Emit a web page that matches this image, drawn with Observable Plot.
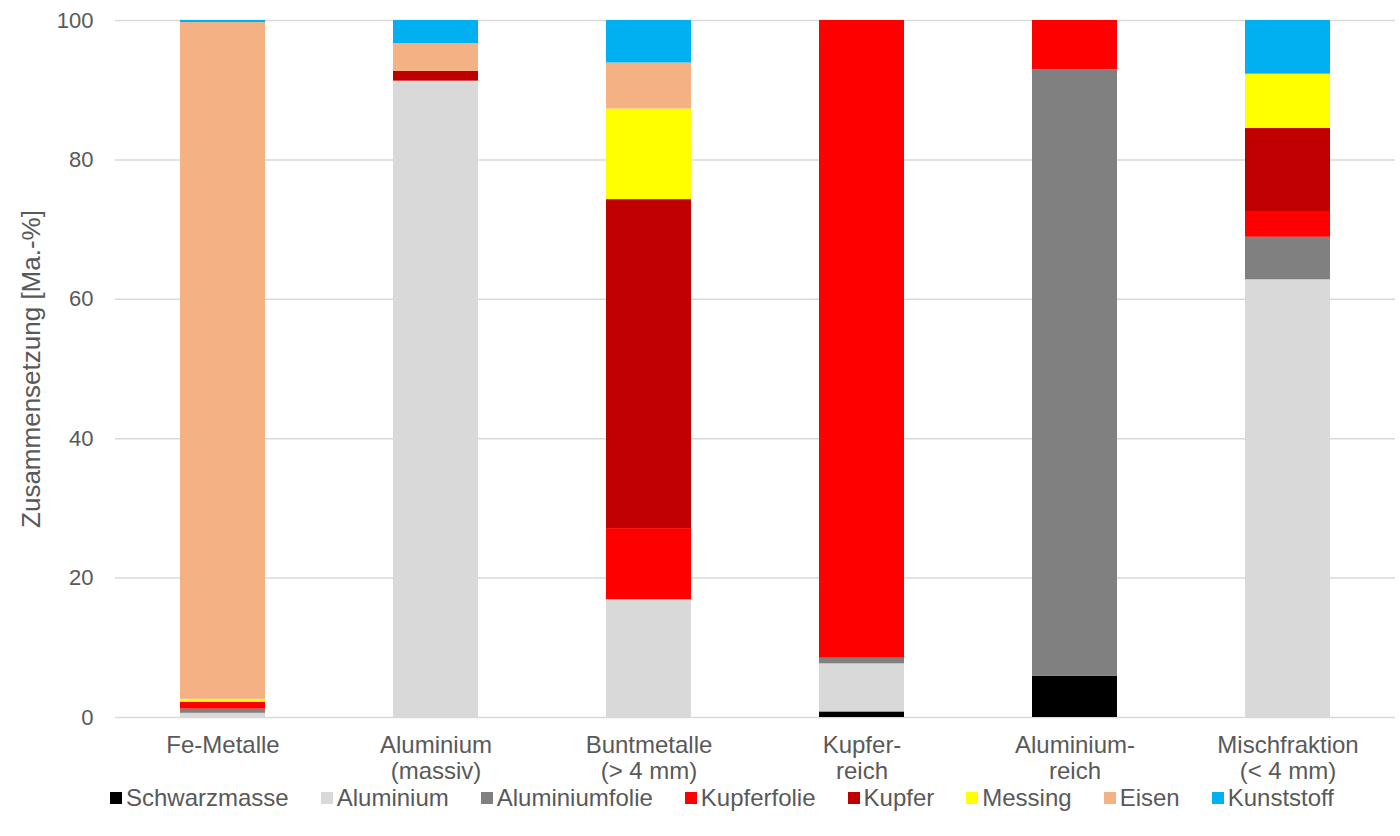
<!DOCTYPE html>
<html>
<head>
<meta charset="utf-8">
<script src="https://cdn.jsdelivr.net/npm/d3@7"></script>
<script src="https://cdn.jsdelivr.net/npm/@observablehq/plot@0.6"></script>
<style>
  html, body { margin: 0; padding: 0; background: #fff; }
  body { width: 1400px; height: 836px; overflow: hidden; font-family: "Liberation Sans", Arial, sans-serif; }
  #legend {
    display: flex; justify-content: center; align-items: center;
    height: 28px; padding-left: 44px;
    font-size: 24px; color: #595959;
  }
  #legend .item { display: flex; align-items: center; margin: 0 16px; }
  #legend .sw { width: 12px; height: 12px; margin-right: 4px; }
</style>
</head>
<body>
<div id="chart"></div>
<div id="legend"></div>
<script>
// Sortierfraktionen (x-Achse)
const categories = [
  "Fe-Metalle",
  "Aluminium\n(massiv)",
  "Buntmetalle\n(> 4 mm)",
  "Kupfer-\nreich",
  "Aluminium-\nreich",
  "Mischfraktion\n(< 4 mm)"
];

// Bestandteile in Stapelreihenfolge (unten nach oben)
const components = ["Schwarzmasse", "Aluminium", "Aluminiumfolie", "Kupferfolie", "Kupfer", "Messing", "Eisen", "Kunststoff"];
const colors = ["#000000", "#d9d9d9", "#808080", "#ff0000", "#c00000", "#ffff00", "#f4b183", "#00b0f0"];

// Massenanteile in Ma.-% je Fraktion
const schwarzmasse   = [0,    0,    0,    0.8,  5.9,  0];
const aluminium      = [0.6,  91.3, 16.9, 6.9,  0,    62.8];
const aluminiumfolie = [0.6,  0,    0,    0.8,  87.0, 6.1];
const kupferfolie    = [1.0,  0,    10.2, 91.5, 7.1,  3.7];
const kupfer         = [0,    1.4,  47.2, 0,    0,    11.9];
const messing        = [0.4,  0,    13.0, 0,    0,    7.8];
const eisen          = [97.1, 4.0,  6.6,  0,    0,    0];
const kunststoff     = [0.3,  3.3,  6.1,  0,    0,    7.7];

const yTicks = [0, 20, 40, 60, 80, 100];

const series = [schwarzmasse, aluminium, aluminiumfolie, kupferfolie, kupfer, messing, eisen, kunststoff];
const rows = [];
components.forEach((c, i) => {
  categories.forEach((cat, j) => {
    rows.push({component: c, category: cat, value: series[i][j]});
  });
});

const chart = Plot.plot({
  width: 1400,
  height: 784,
  marginLeft: 115,
  marginRight: 5,
  marginTop: 20,
  marginBottom: 67,
  style: {fontFamily: "'Liberation Sans', Arial, sans-serif", fontSize: "22px", color: "#595959", background: "#fff"},
  x: {domain: categories, paddingInner: 0.6, paddingOuter: 0.3},
  y: {domain: [0, 100]},
  color: {domain: components, range: colors},
  marks: [
    Plot.gridY(yTicks, {stroke: "#d9d9d9", strokeOpacity: 1, strokeWidth: 1.5}),
    Plot.barY(rows, Plot.stackY({order: components}, {x: "category", y: "value", fill: "component"})),
    Plot.axisY(yTicks, {tickSize: 0, tickPadding: 22, fontSize: 22, fill: "#595959", label: null}),
    Plot.axisY({
      ticks: [], tickSize: 0, fontSize: 26, fill: "#595959",
      label: "Zusammensetzung [Ma.-%]", labelAnchor: "center", labelArrow: "none", labelOffset: 94
    }),
    Plot.axisX({tickSize: 0, tickPadding: 17, fontSize: 24, fill: "#595959", lineHeight: 1.09, label: null})
  ]
});
document.getElementById("chart").appendChild(chart);

const legend = document.getElementById("legend");
components.forEach((c, i) => {
  const item = document.createElement("div");
  item.className = "item";
  const sw = document.createElement("span");
  sw.className = "sw";
  sw.style.background = colors[i];
  const t = document.createElement("span");
  t.textContent = c;
  item.appendChild(sw);
  item.appendChild(t);
  legend.appendChild(item);
});
</script>
</body>
</html>
